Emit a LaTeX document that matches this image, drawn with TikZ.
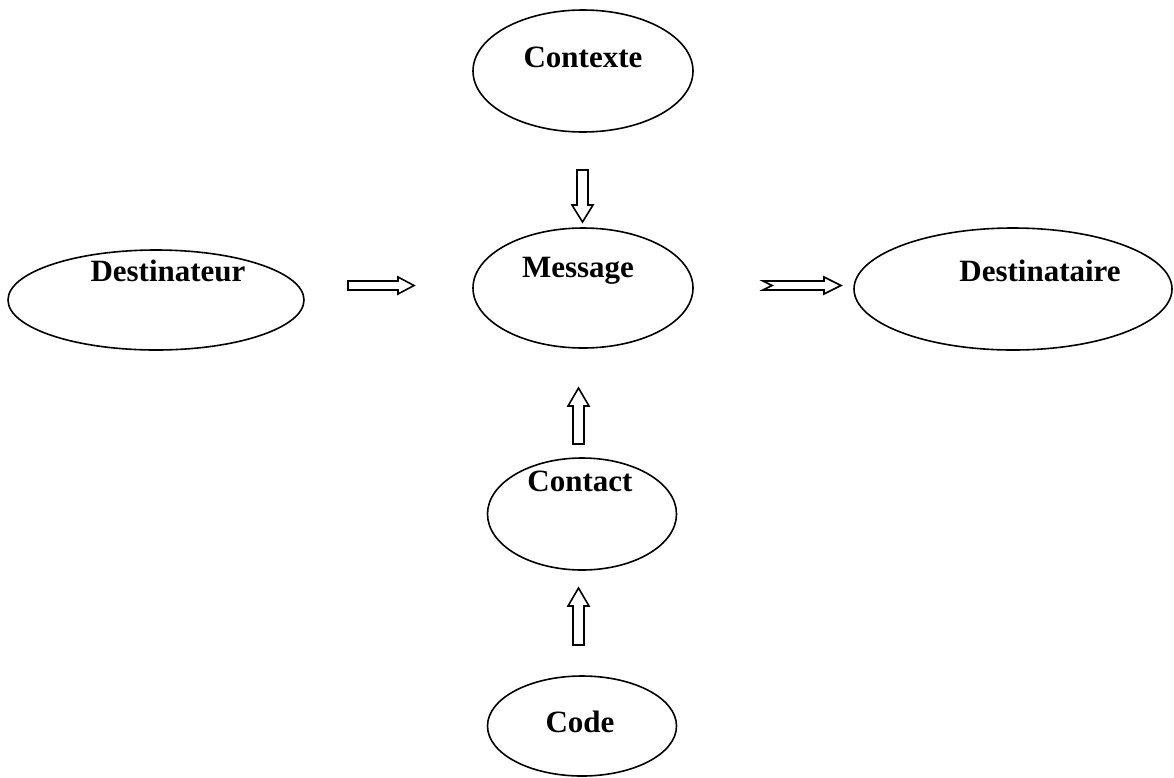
\documentclass[tikz,border=0pt]{standalone}
\usepackage{fontspec}
\setmainfont{Liberation Serif}
\usetikzlibrary{shapes.geometric}
\begin{document}
\begin{tikzpicture}[x=1pt,y=-1pt,
  oval/.style={draw,line width=1.6pt,ellipse,inner sep=0pt},
  lbl/.style={font=\fontsize{31}{36}\selectfont\bfseries,inner sep=0pt},
  blk/.style={draw,line width=1.6pt,fill=white,line join=miter}]
\useasboundingbox (0,0) rectangle (1174,777);
% ellipses
\node[oval,minimum width=220,minimum height=122] (contexte) at (583,71) {};
\node[lbl] (tcontexte) at (583,57) {Contexte};
\node[oval,minimum width=296,minimum height=100] (destinateur) at (156,300) {};
\node[lbl] (tdestinateur) at (168,271) {Destinateur};
\node[oval,minimum width=220,minimum height=120] (message) at (583,288) {};
\node[lbl] (tmessage) at (578,271) {Message};
\node[oval,minimum width=318,minimum height=122] (destinataire) at (1013,289) {};
\node[lbl] (tdestinataire) at (1040,271) {Destinataire};
\node[oval,minimum width=189,minimum height=112] (contact) at (582,514) {};
\node[lbl] (tcontact) at (580,481) {Contact};
\node[oval,minimum width=189,minimum height=100] (code) at (582,726) {};
\node[lbl] (tcode) at (580,722) {Code};
% block arrows
\draw[blk] (577,170) -- (588,170) -- (588,205) -- (593,205) -- (582.5,222) -- (572,205) -- (577,205) -- cycle;
\draw[blk] (348,281) -- (398,281) -- (398,277) -- (414,285.5) -- (398,294) -- (398,290) -- (348,290) -- cycle;
\draw[blk] (763,281) -- (824,281) -- (824,277) -- (841,285.5) -- (824,294) -- (824,290) -- (763,290) -- (772,285.5) -- cycle;
\draw[blk] (573,444) -- (573,406) -- (568,406) -- (578.5,388) -- (589,406) -- (584,406) -- (584,444) -- cycle;
\draw[blk] (573,645) -- (573,606) -- (568,606) -- (578.5,588) -- (589,606) -- (584,606) -- (584,645) -- cycle;
\end{tikzpicture}
\end{document}
